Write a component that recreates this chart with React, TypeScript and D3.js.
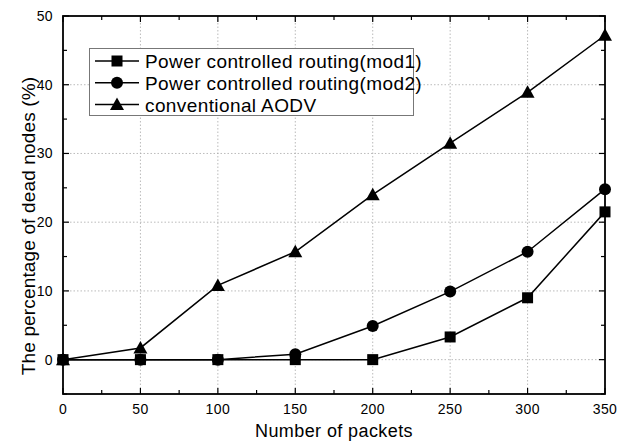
import React from "react";
import * as d3 from "d3";

const packets = [0, 50, 100, 150, 200, 250, 300, 350];
const mod1 = [0, 0, 0, 0, 0, 3.3, 9.0, 21.5];
const mod2 = [0, 0, 0, 0.8, 4.9, 9.9, 15.7, 24.8];
const aodv = [0, 1.7, 10.8, 15.7, 24.0, 31.5, 38.9, 47.2];
const seriesNames = [
  "Power controlled routing(mod1)",
  "Power controlled routing(mod2)",
  "conventional AODV",
];
const xTicks = [0, 50, 100, 150, 200, 250, 300, 350];
const yTicks = [0, 10, 20, 30, 40, 50];
const xLabel = "Number of packets";
const yLabel = "The percentage of dead nodes (%)";

const W = 619, H = 446;
const L = 63, R = 605, T = 16, B = 394;
const FONT = "'Liberation Sans', Arial, sans-serif";

function Marker({ kind, x, y }: { kind: string; x: number; y: number }) {
  if (kind === "square") return <rect x={x - 5.5} y={y - 5.5} width={11} height={11} fill="#000" />;
  if (kind === "circle") return <circle cx={x} cy={y} r={6} fill="#000" />;
  return <path d={`M${x},${y - 7}L${x + 7},${y + 5.5}L${x - 7},${y + 5.5}Z`} fill="#000" />;
}

export default function App() {
  const x = d3.scaleLinear().domain([0, 350]).range([L, R]);
  const y = d3.scaleLinear().domain([-5, 50]).range([B, T]);
  const series = [
    { name: seriesNames[0], vals: mod1, kind: "square" },
    { name: seriesNames[1], vals: mod2, kind: "circle" },
    { name: seriesNames[2], vals: aodv, kind: "triangle" },
  ];
  const line = d3.line<number>().x((_, i) => x(packets[i])).y((v) => y(v));
  const xMinor = d3.range(0, 351, 25);
  const yMinor = d3.range(-5, 51, 5);
  return (
    <svg width={W} height={H} style={{ position: "absolute", left: 0, top: 0, background: "#fff" }} fontFamily={FONT}>
      <rect width={W} height={H} fill="#fff" />
      {/* grid */}
      {xTicks.slice(1, -1).map((t) => (
        <line key={"gx" + t} x1={x(t)} x2={x(t)} y1={T} y2={B} stroke="#aaa" strokeWidth={0.8} strokeDasharray="1.5,2" />
      ))}
      {yTicks.slice(0, -1).map((t) => (
        <line key={"gy" + t} x1={L} x2={R} y1={y(t)} y2={y(t)} stroke="#aaa" strokeWidth={0.8} strokeDasharray="1.5,2" />
      ))}
      {/* ticks */}
      {xMinor.map((t) => {
        const len = t % 50 === 0 ? 6 : 4;
        return (
          <g key={"tx" + t}>
            <line x1={x(t)} x2={x(t)} y1={B} y2={B - len} stroke="#000" strokeWidth={1.2} />
            <line x1={x(t)} x2={x(t)} y1={T} y2={T + len} stroke="#000" strokeWidth={1.2} />
          </g>
        );
      })}
      {yMinor.map((t) => {
        const len = t % 10 === 0 ? 6 : 4;
        return (
          <g key={"ty" + t}>
            <line x1={L} x2={L + len} y1={y(t)} y2={y(t)} stroke="#000" strokeWidth={1.2} />
            <line x1={R} x2={R - len} y1={y(t)} y2={y(t)} stroke="#000" strokeWidth={1.2} />
          </g>
        );
      })}
      {/* series */}
      {series.map((s) => (
        <g key={s.name}>
          <path d={line(s.vals) || ""} fill="none" stroke="#000" strokeWidth={1.5} />
          {s.vals.map((v, i) => (
            <Marker key={i} kind={s.kind} x={x(packets[i])} y={y(v)} />
          ))}
        </g>
      ))}
      {/* frame */}
      <rect x={L} y={T} width={R - L} height={B - T} fill="none" stroke="#000" strokeWidth={1.8} />
      {/* tick labels */}
      {xTicks.map((t) => (
        <text key={"lx" + t} x={x(t)} y={B + 20} textAnchor="middle" fontSize={14} letterSpacing={0.4} fill="#000">{t}</text>
      ))}
      {yTicks.map((t) => (
        <text key={"ly" + t} x={L - 10} y={y(t) + 5} textAnchor="end" fontSize={14} letterSpacing={0.4} fill="#000">{t}</text>
      ))}
      <text x={334} y={437} textAnchor="middle" fontSize={18} letterSpacing={0.4} fill="#000">{xLabel}</text>
      <text transform={`translate(35,226) rotate(-90)`} textAnchor="middle" fontSize={19} letterSpacing={0.15} fill="#000">{yLabel}</text>
      {/* legend */}
      <rect x={89.5} y={48.5} width={324} height={67} fill="#fff" stroke="#777" strokeWidth={1} />
      {series.map((s, i) => {
        const ly = 61 + i * 21.8;
        return (
          <g key={"lg" + s.name}>
            <line x1={95} x2={139} y1={ly} y2={ly} stroke="#000" strokeWidth={1.5} />
            <Marker kind={s.kind} x={117} y={ly} />
            <text x={145} y={ly + 7} fontSize={19} letterSpacing={0.4} fill="#000">{s.name}</text>
          </g>
        );
      })}
    </svg>
  );
}
